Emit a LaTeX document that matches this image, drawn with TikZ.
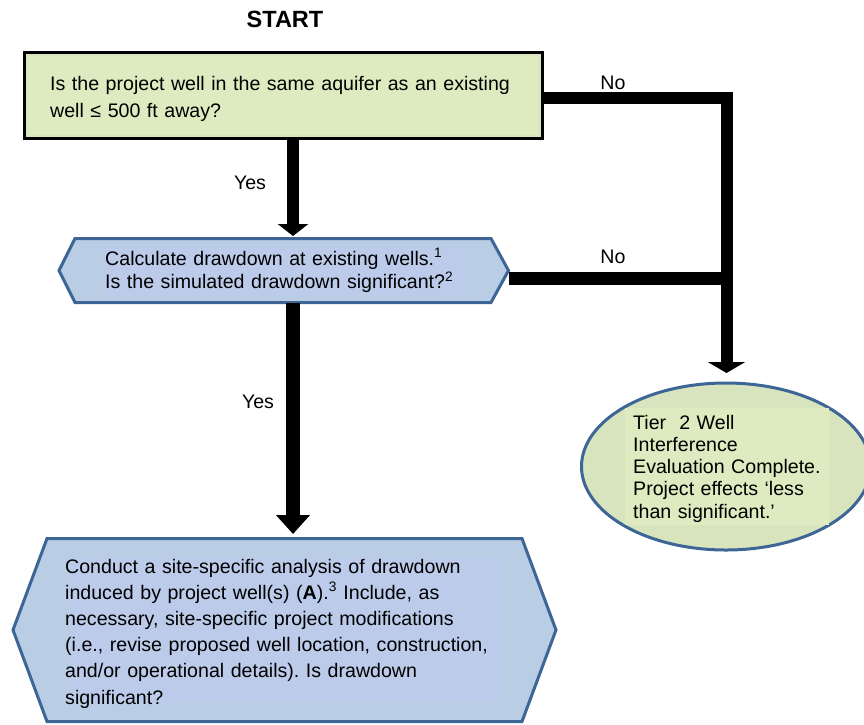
\documentclass[tikz,border=0pt]{standalone}
\usepackage{fontspec}
\setmainfont{Liberation Sans}
\usetikzlibrary{arrows.meta,shapes.geometric}
\definecolor{grnA}{HTML}{D7E4BD}
\definecolor{grnB}{HTML}{DEEABF}
\definecolor{bluA}{HTML}{B9CDE5}
\definecolor{bluB}{HTML}{BCCBEA}
\definecolor{bluE}{HTML}{3D6595}
\begin{document}
\frenchspacing
\begin{tikzpicture}[x=1pt,y=-1pt,
  txt/.style={font=\fontsize{19.6}{#1}\selectfont, inner sep=0pt, anchor=base west, align=left},
  lbl/.style={font=\fontsize{19.6}{24}\selectfont, inner sep=0pt},
  hexbox/.style={draw=bluE, line width=3pt, fill=bluA, line join=miter},
  conn/.style={line width=#1, draw=black, line join=miter},
]
\useasboundingbox (0,0) rectangle (864,724);

% START
\node[font=\bfseries\fontsize{23.5}{28}\selectfont, inner sep=0pt] (start) at (285,19) {START};

% Box 1
\node[draw=black, line width=3pt, fill=grnA, minimum width=518pt, minimum height=86pt, inner sep=0pt] (q1) at (283.5,95.5) {};
\fill[grnB] ([shift={(5,5)}]q1.north west) rectangle ([shift={(-5,-5)}]q1.south east);
\node[txt=27, text width=480pt] (q1t) at (50,90) {Is the project well in the same aquifer as an existing\\well ≤ 500 ft away?};

% Hexagon 2
\draw[hexbox] (75,238.5) -- (491,238.5) -- (508.5,270.5) -- (491,302.5) -- (75,302.5) -- (59,270.5) -- cycle;
\fill[bluB] (103,247) rectangle (466,295);
\node[txt=23.3, text width=380pt] (h2t) at (105,265.5) {Calculate drawdown at existing wells.\textsuperscript{1}\\Is the simulated drawdown significant?\textsuperscript{2}};

% Hexagon 3
\draw[hexbox] (47,538.5) -- (522,538.5) -- (556,630) -- (522,721.5) -- (47,721.5) -- (13,630) -- cycle;
\fill[bluB] (69,558) rectangle (501,702);
\node[txt=26.2, text width=450pt] (h3t) at (65,573) {Conduct a site-specific analysis of drawdown\\induced by project well(s) (\textbf{A}).\textsuperscript{3} Include, as\\necessary, site-specific project modifications\\(i.e., revise proposed well location, construction,\\and/or operational details). Is drawdown\\significant?};

% Ellipse
\node[ellipse, draw=bluE, line width=3pt, fill=grnA, minimum width=289pt, minimum height=167pt, inner sep=0pt] (tier) at (726,466.5) {};
\fill[grnB] (625,408) rectangle (829,525);
\node[txt=22.3, text width=215pt] (tiert) at (633,429) {Tier\ \ 2 Well\\Interference\\Evaluation Complete.\\Project effects ‘less\\than significant.’};

% connector coordinates
\coordinate (q1b) at (293,140);
\coordinate (h2n) at (293,236);
\coordinate (h2s) at (293,303);
\coordinate (h3n) at (293,534);
\coordinate (q1e) at (543,98);
\coordinate (tiern) at (726.5,373);
\coordinate (h2e) at (509,278.5);

% connectors
\draw[conn=12pt, -{Triangle[width=30pt,length=12pt]}] (q1b) -- (h2n);
\draw[conn=14pt, -{Triangle[width=33pt,length=19pt]}] (h2s) -- (h3n);
\draw[conn=12pt, -{Triangle[width=37pt,length=11pt]}] (q1e) -| (tiern);
\draw[conn=13pt] (h2e) -- (h2e -| tiern);

% labels
\node[lbl] (yes1) at (250,183) {Yes};
\node[lbl] (yes2) at (258,402) {Yes};
\node[lbl] (no1) at (613,83) {No};
\node[lbl] (no2) at (613,257) {No};
\end{tikzpicture}
\end{document}
